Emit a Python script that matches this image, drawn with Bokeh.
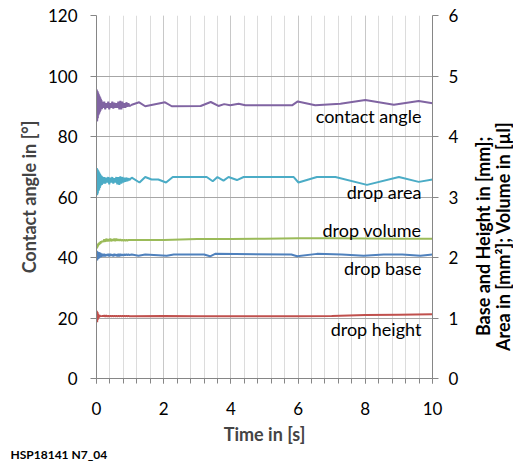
import math
from bokeh.plotting import figure
from bokeh.models import Range1d, LinearAxis, SingleIntervalTicker, Label
from bokeh.layouts import row, column
from bokeh.core.properties import value
from bokeh.embed import file_html
from bokeh.resources import INLINE

# ---------------- data ----------------
t_early = [0.00, 0.01, 0.02, 0.03, 0.04, 0.05, 0.06, 0.07, 0.08, 0.09, 0.10,
           0.11, 0.12, 0.13, 0.14, 0.15, 0.16, 0.17, 0.18, 0.19, 0.20,
           0.23, 0.26, 0.29, 0.32, 0.35, 0.38, 0.41, 0.44, 0.47, 0.50, 0.53,
           0.56, 0.59, 0.62, 0.65, 0.68, 0.71, 0.74, 0.77, 0.80, 0.83, 0.86,
           0.89, 0.92, 0.95, 0.98]

# contact angle [deg] (left axis)
ca_early = [86.0, 95.5, 85.0, 95.0, 86.0, 94.5, 87.0, 94.0, 87.5, 93.5, 88.0,
            93.0, 88.5, 92.5, 89.0, 92.0, 89.0, 91.5, 89.5, 91.5, 89.5,
            91.5, 89.0, 91.0, 89.5, 91.5, 89.0, 91.0, 89.5, 91.5, 89.2, 91.2,
            89.5, 91.0, 89.5, 91.5, 89.0, 91.8, 89.0, 91.5, 89.5, 91.0, 89.5,
            91.3, 89.8, 91.0, 90.0]
ca_t_late = [1.05, 1.27, 1.45, 2.04, 2.24, 3.10, 3.40, 3.63, 3.80, 3.98, 4.23,
             4.43, 5.82, 5.99, 6.51, 7.26, 8.00, 8.85, 9.59, 10.0]
ca_late = [90.5, 91.3, 90.0, 91.3, 90.0, 90.1, 91.4, 90.1, 90.7, 90.3, 90.8,
           90.3, 90.3, 91.6, 90.3, 90.8, 92.1, 90.5, 91.7, 91.0]

# drop area [mm2] (right axis)
area_early = [3.05, 3.48, 3.03, 3.46, 3.06, 3.44, 3.10, 3.42, 3.12, 3.40, 3.15,
              3.38, 3.18, 3.36, 3.20, 3.35, 3.20, 3.34, 3.22, 3.33, 3.22,
              3.33, 3.22, 3.32, 3.24, 3.33, 3.21, 3.32, 3.24, 3.33, 3.22, 3.31,
              3.24, 3.33, 3.21, 3.33, 3.20, 3.34, 3.22, 3.33, 3.24, 3.32, 3.25,
              3.32, 3.26, 3.31, 3.28]
area_t_late = [1.05, 1.28, 1.45, 1.64, 1.84, 2.07, 2.27, 3.28, 3.46, 3.60, 3.78,
               3.93, 4.18, 4.38, 5.87, 6.01, 6.56, 7.11, 8.05, 9.00, 9.59, 10.0]
area_late = [3.32, 3.24, 3.33, 3.29, 3.29, 3.24, 3.33, 3.33, 3.26, 3.33, 3.27,
             3.33, 3.28, 3.33, 3.33, 3.24, 3.33, 3.33, 3.20, 3.33, 3.25, 3.29]

# drop volume [ul] (right axis)
vol_early = [2.14, 2.20, 2.16, 2.22, 2.18, 2.23, 2.20, 2.24, 2.21, 2.25, 2.22,
             2.26, 2.23, 2.27, 2.24, 2.27, 2.25, 2.28, 2.25, 2.28, 2.26,
             2.30, 2.26, 2.31, 2.27, 2.30, 2.27, 2.31, 2.27, 2.30, 2.28, 2.31,
             2.27, 2.31, 2.28, 2.30, 2.28, 2.30, 2.28, 2.29, 2.28, 2.29, 2.28,
             2.29, 2.28, 2.29, 2.29]
vol_t_late = [1.05, 2.0, 3.0, 4.0, 5.0, 6.0, 7.0, 8.0, 9.0, 10.0]
vol_late = [2.29, 2.29, 2.305, 2.305, 2.31, 2.32, 2.32, 2.315, 2.31, 2.31]

# drop base [mm] (right axis)
base_early = [1.97, 2.11, 1.95, 2.10, 1.97, 2.09, 1.98, 2.09, 1.99, 2.08, 2.00,
              2.08, 2.00, 2.07, 2.01, 2.07, 2.02, 2.06, 2.02, 2.06, 2.02,
              2.06, 2.02, 2.05, 2.03, 2.06, 2.02, 2.06, 2.03, 2.05, 2.02, 2.06,
              2.03, 2.05, 2.02, 2.06, 2.02, 2.06, 2.03, 2.05, 2.03, 2.05, 2.04,
              2.05, 2.04, 2.05, 2.04]
base_t_late = [1.05, 1.25, 1.45, 2.09, 2.30, 3.20, 3.38, 3.53, 5.80, 5.97, 6.56,
               7.30, 7.95, 8.55, 9.10, 9.64, 10.0]
base_late = [2.05, 2.03, 2.05, 2.03, 2.05, 2.05, 2.02, 2.06, 2.05, 2.02, 2.06,
             2.05, 2.03, 2.05, 2.05, 2.03, 2.05]

# drop height [mm] (right axis)
height_early = [0.95, 1.12, 0.93, 1.10, 0.97, 1.07, 1.00, 1.05, 1.01, 1.05, 1.02,
                1.04, 1.02, 1.04, 1.02, 1.04, 1.02, 1.04, 1.03, 1.04, 1.03,
                1.04, 1.025, 1.04, 1.025, 1.035, 1.025, 1.035, 1.03, 1.035, 1.03,
                1.035, 1.03, 1.035, 1.025, 1.035, 1.03, 1.035, 1.03, 1.035, 1.03,
                1.035, 1.03, 1.035, 1.03, 1.035, 1.03]
height_t_late = [1.05, 2.0, 3.0, 4.0, 5.0, 6.0, 7.0, 8.0, 9.0, 10.0]
height_late = [1.03, 1.035, 1.03, 1.03, 1.03, 1.03, 1.035, 1.05, 1.055, 1.06]

series_names = ["contact angle", "drop area", "drop volume", "drop base", "drop height"]
series_colors = ["#8064A2", "#4BACC6", "#9BBB59", "#4F81BD", "#C0504D"]

right_title_lines = ["Base and Height in [mm];", "Area in [mm²]; Volume in [µl]"]
footer_text = "HSP18141 N7_04"

# text anchor positions (time, left-axis units)
label_x = [9.67, 9.67, 9.67, 9.67, 9.67]
label_y = [86.9, 61.7, 49.1, 36.5, 16.4]

FONT = "Lato"
H_MAIN = 447
W_MAIN = 465
W_STRIP = 48
H_FOOT = 14


def blank(width, height):
    f = figure(width=width, height=height, x_range=Range1d(0, width), y_range=Range1d(0, height),
               output_backend="svg", toolbar_location=None,
               x_axis_location=None, y_axis_location=None,
               min_border_left=0, min_border_right=0, min_border_top=0, min_border_bottom=0)
    f.outline_line_color = None
    f.xgrid.visible = False
    f.ygrid.visible = False
    f.border_fill_color = "white"
    return f


# ---------------- main figure ----------------
p = figure(width=W_MAIN, height=H_MAIN, x_range=Range1d(0, 10), y_range=Range1d(0, 120),
           output_backend="svg", toolbar_location=None,
           min_border_left=96, min_border_right=33, min_border_top=15, min_border_bottom=67)
p.extra_y_ranges = {"right": Range1d(0, 6)}
p.outline_line_color = None
p.background_fill_color = "white"
p.border_fill_color = "white"

# x axis
xa = p.xaxis[0]
xa.ticker = SingleIntervalTicker(interval=2, num_minor_ticks=5)
xa.axis_label = "Time in [s]"
xa.axis_label_text_font = FONT
xa.axis_label_text_font_style = "bold"
xa.axis_label_text_font_size = "18px"
xa.axis_label_standoff = 5
xa.major_label_text_font = FONT
xa.major_label_text_font_size = "17px"
xa.major_label_text_color = "black"
xa.major_label_standoff = 18
xa.axis_line_color = "#868686"
xa.major_tick_line_color = "#868686"
xa.minor_tick_line_color = "#868686"
xa.major_tick_in = 0
xa.major_tick_out = 5
xa.minor_tick_in = 0
xa.minor_tick_out = 5

# left axis
ya = p.yaxis[0]
ya.ticker = SingleIntervalTicker(interval=20, num_minor_ticks=0)
ya.axis_label = "Contact angle in [°]"
ya.axis_label_text_font = FONT
ya.axis_label_text_font_style = "bold"
ya.axis_label_text_font_size = "18px"
ya.axis_label_standoff = 5
ya.major_label_text_font = FONT
ya.major_label_text_font_size = "17px"
ya.major_label_text_color = "black"
ya.major_label_standoff = 13
ya.axis_line_color = "#868686"
ya.major_tick_line_color = "#868686"
ya.minor_tick_line_color = None
ya.major_tick_in = 0
ya.major_tick_out = 6

# right axis
ra = LinearAxis(y_range_name="right", ticker=SingleIntervalTicker(interval=1, num_minor_ticks=0))
ra.major_label_text_font = FONT
ra.major_label_text_font_size = "17px"
ra.major_label_text_color = "black"
ra.major_label_standoff = 10
ra.axis_line_color = "#868686"
ra.major_tick_line_color = "#868686"
ra.minor_tick_line_color = None
ra.major_tick_in = 0
ra.major_tick_out = 6
p.add_layout(ra, "right")

# grids
p.xgrid.ticker = xa.ticker
p.xgrid.grid_line_color = "#c8c8c8"
p.xgrid.minor_grid_line_color = "#dcdcdc"
p.ygrid.ticker = ya.ticker
p.ygrid.grid_line_color = "#a6a6a6"

# series
p.line(t_early + ca_t_late, ca_early + ca_late, line_color=series_colors[0], line_width=2)
p.line(t_early + area_t_late, area_early + area_late, line_color=series_colors[1],
       line_width=2, y_range_name="right")
p.line(t_early + vol_t_late, vol_early + vol_late, line_color=series_colors[2],
       line_width=2, y_range_name="right")
p.line(t_early + base_t_late, base_early + base_late, line_color=series_colors[3],
       line_width=2, y_range_name="right")
p.line(t_early + height_t_late, height_early + height_late, line_color=series_colors[4],
       line_width=2, y_range_name="right")

# series labels
p.text(x=label_x, y=label_y, text=series_names, text_font=value(FONT),
       text_font_size="18px", text_align="right", text_baseline="middle",
       text_color="black")

# ---------------- side strip with the right axis title ----------------
p2 = blank(W_STRIP, H_MAIN)
strip_x = [17, 37]
strip_y = H_MAIN - 272
for lx, line in zip(strip_x, right_title_lines):
    p2.add_layout(Label(x=lx, y=strip_y, text=line, angle=math.pi / 2,
                        text_font=FONT, text_font_style="bold", text_font_size="18px",
                        text_align="center", text_baseline="middle", text_color="black"))

# ---------------- footer strip with the sample id ----------------
p3 = blank(W_MAIN + W_STRIP, H_FOOT)
p3.add_layout(Label(x=10, y=H_FOOT / 2, text=footer_text, text_font=FONT,
                    text_font_style="bold", text_font_size="12px",
                    text_align="left", text_baseline="middle", text_color="black"))

layout = column(row(p, p2, spacing=0), p3, spacing=0)
open("out.html", "w").write(file_html(layout, INLINE))
